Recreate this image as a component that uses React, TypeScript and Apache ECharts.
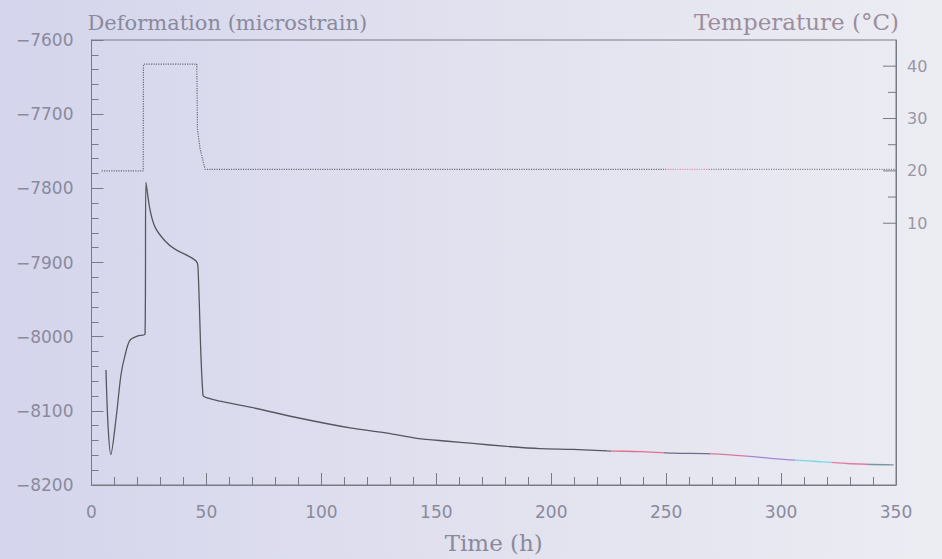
import React, { useEffect, useRef } from "react";
import * as echarts from "echarts";

// Deformation (microstrain) vs time (h)
const defTime = [6.3, 7.2, 8.4, 10.7, 12.8, 14.6, 16.7, 20.2, 23.3, 23.7, 25.4, 27.6, 32, 36.3, 42, 45.5, 46.3, 48.5, 50.7, 55.9, 69, 90.7, 112.5, 128.6, 141.6, 155, 166, 180.8, 195.1, 209.5, 224.3, 238.6, 253, 270.4, 285.1, 299.5, 313.9, 328.7, 349];
const defValues = [-8045, -8120, -8159, -8110, -8052, -8025, -8005, -7999, -7996, -7792, -7828, -7852, -7871, -7882, -7891, -7898, -7905, -8079, -8083, -8087, -8095, -8110, -8123, -8130, -8137, -8141, -8144, -8148, -8151, -8152, -8154, -8155, -8157, -8158, -8161, -8165, -8168, -8171, -8173];

// Temperature (°C) vs time (h)
const tempTime = [4.4, 22.5, 22.6, 45.8, 46.1, 47.2, 49.4, 350];
const tempValues = [20, 20, 40.4, 40.4, 28, 24.3, 20.3, 20.3];

// Tick labels
const xTicks = [0, 50, 100, 150, 200, 250, 300, 350];
const defTicks = [-8200, -8100, -8000, -7900, -7800, -7700, -7600];
const tempLabelTicks = [10, 20, 30, 40];
const tempTickMarks = [10, 15, 20, 25, 30, 35, 40];

const labelColor = "#8a8a9c";
const axisColor = "#7a7a86";

export default function App() {
  const ref = useRef<HTMLDivElement>(null);
  useEffect(() => {
    if (!ref.current) return;
    const chart = echarts.init(ref.current, null, { renderer: "svg" });
    const minus = (v: number) => String(v).replace("-", "\u2212");
    chart.setOption({
      animation: false,
      backgroundColor: new echarts.graphic.LinearGradient(0, 0, 1, 0, [
        { offset: 0, color: "#d4d5ec" },
        { offset: 0.5, color: "#e1e1ef" },
        { offset: 1, color: "#ececf3" },
      ]),
      grid: {
        left: 91.5,
        right: 46,
        top: 40,
        bottom: 72,
        show: true,
        borderColor: axisColor,
        borderWidth: 1,
        backgroundColor: "transparent",
      },
      visualMap: [
        {
          show: false,
          type: "piecewise",
          seriesIndex: 0,
          dimension: 0,
          pieces: [
            { lt: 226, color: "#56565e" },
            { gte: 226, lt: 249, color: "#e0708c" },
            { gte: 249, lt: 269, color: "#6c6c88" },
            { gte: 269, lt: 285, color: "#d87898" },
            { gte: 285, lt: 306, color: "#a088d8" },
            { gte: 306, lt: 322, color: "#78d8e4" },
            { gte: 322, lt: 338, color: "#e07aa8" },
            { gte: 338, color: "#7898a8" },
          ],
        },
        {
          show: false,
          type: "piecewise",
          seriesIndex: 1,
          dimension: 0,
          pieces: [
            { lt: 250, color: "#6a6a74" },
            { gte: 250, lt: 268, color: "#e090a8" },
            { gte: 268, color: "#8a8496" },
          ],
        },
      ],
      xAxis: {
        type: "value",
        min: 0,
        max: 350,
        interval: 50,
        name: "Time (h)",
        nameLocation: "middle",
        nameGap: 46,
        nameTextStyle: { fontFamily: "DejaVu Serif", fontSize: 23, color: labelColor },
        axisLine: { show: true, onZero: false, lineStyle: { color: axisColor } },
        axisTick: { show: true, inside: true, length: 12, lineStyle: { color: axisColor } },
        minorTick: { show: true, splitNumber: 5, length: 8, lineStyle: { color: axisColor } },
        splitLine: { show: false },
        axisLabel: {
          margin: 18,
          fontFamily: "DejaVu Sans",
          fontSize: 17,
          color: labelColor,
          formatter: (v: number) => (xTicks.includes(v) ? String(v) : ""),
        },
      },
      yAxis: [
        {
          type: "value",
          position: "left",
          min: -8200,
          max: -7600,
          interval: 100,
          name: "Deformation (microstrain)",
          nameLocation: "end",
          nameGap: 7,
          nameTextStyle: {
            fontFamily: "DejaVu Serif",
            fontSize: 21,
            color: labelColor,
            align: "left",
            padding: [0, 0, 0, -4],
          },
          axisLine: { show: true, onZero: false, lineStyle: { color: axisColor } },
          axisTick: { show: true, inside: true, length: 12, lineStyle: { color: axisColor } },
          minorTick: { show: true, splitNumber: 5, length: 7, lineStyle: { color: axisColor } },
          splitLine: { show: false },
          axisLabel: {
            margin: 18,
            fontFamily: "DejaVu Sans",
            fontSize: 17,
            color: labelColor,
            formatter: (v: number) => (defTicks.includes(v) ? minus(v) : ""),
          },
        },
        {
          type: "value",
          position: "right",
          min: -40,
          max: 45,
          interval: 5,
          name: "Temperature (\u00b0C)",
          nameLocation: "end",
          nameGap: 7,
          nameTextStyle: {
            fontFamily: "DejaVu Serif",
            fontSize: 23,
            color: "#9c8e9c",
            align: "right",
            padding: [0, -3, 0, 0],
          },
          axisLine: { show: true, onZero: false, lineStyle: { color: axisColor } },
          axisTick: { show: false },
          splitLine: { show: false },
          axisLabel: {
            margin: 11,
            fontFamily: "DejaVu Sans",
            fontSize: 16,
            color: "#9a96a6",
            formatter: (v: number) => (tempLabelTicks.includes(v) ? String(v) : ""),
          },
        },
      ],
      series: [
        {
          type: "line",
          name: "Deformation",
          xAxisIndex: 0,
          yAxisIndex: 0,
          data: defTime.map((t, i) => [t, defValues[i]]),
          showSymbol: false,
          smooth: 0.3,
          lineStyle: { width: 1.3 },
          z: 3,
        },
        {
          type: "line",
          name: "Temperature",
          xAxisIndex: 0,
          yAxisIndex: 1,
          data: tempTime.map((t, i) => [t, tempValues[i]]),
          showSymbol: false,
          lineStyle: { width: 1.2, type: "dotted" },
          z: 2,
        },
        {
          type: "custom",
          name: "TempTicks",
          xAxisIndex: 0,
          yAxisIndex: 1,
          data: tempTickMarks.map((v) => [350, v]),
          renderItem: (params: any, api: any) => {
            const v = api.value(1);
            const p = api.coord([api.value(0), v]);
            const len = v % 10 === 0 ? 13 : 8;
            return {
              type: "line",
              shape: { x1: p[0] - len, y1: p[1], x2: p[0], y2: p[1] },
              style: { stroke: axisColor, lineWidth: 1 },
            };
          },
          silent: true,
          z: 4,
        },
      ],
    });
    return () => chart.dispose();
  }, []);
  return (
    <div
      ref={ref}
      style={{ position: "absolute", left: 0, top: 0, width: 942, height: 559 }}
    />
  );
}
